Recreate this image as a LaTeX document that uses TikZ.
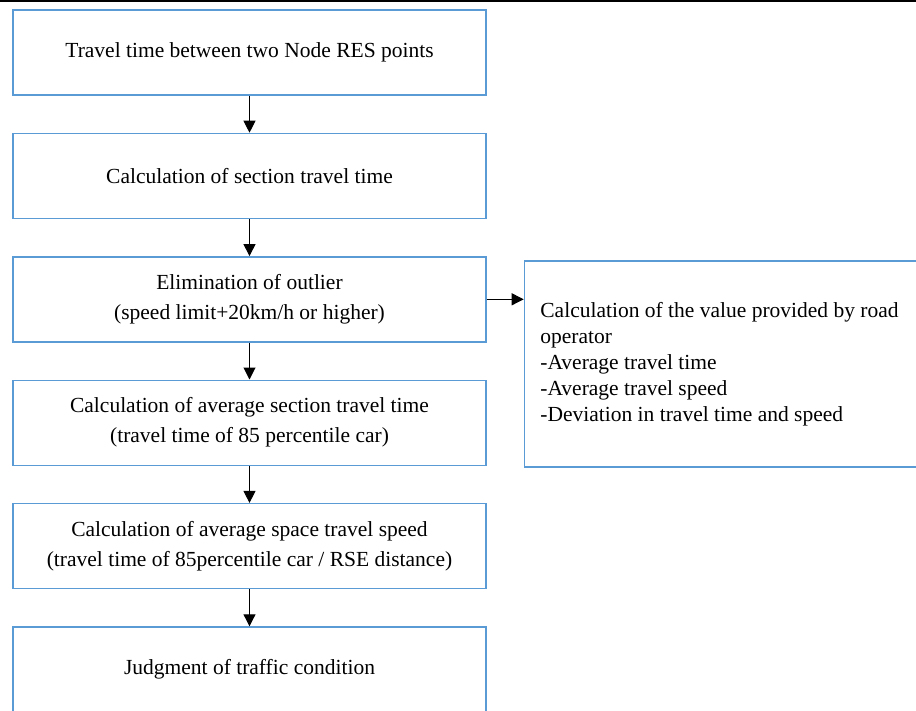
\documentclass[tikz,border=0pt]{standalone}
\usepackage{fontspec}
\setmainfont{Liberation Serif}
\usepackage{xcolor}
\usetikzlibrary{arrows.meta,positioning,calc}
\definecolor{boxblue}{HTML}{5B9BD5}

\begin{document}
\begin{tikzpicture}[
  stepbox/.style={draw=boxblue,line width=1.4pt,align=center,minimum width=473pt,
              minimum height=85pt,inner sep=0pt,font=\fontsize{21.5}{30}\selectfont},
  sidebox/.style={draw=boxblue,line width=1.4pt,align=flush left,minimum width=392pt,
               minimum height=206pt,text width=360pt,inner xsep=16pt,inner ysep=0pt,
               font=\fontsize{21.5}{26}\selectfont},
  arrow/.style={-{Triangle[length=12pt,width=12pt]},line width=1pt},
  node distance=37pt
]
\clip (0,0) rectangle (916pt,-710pt);
\fill[white] (0,0) rectangle (916pt,-710pt);
\draw[line width=2pt] (0,-1pt) -- (916pt,-1pt);

\node[stepbox] (t1) at (249.5pt,-52.5pt) {Travel time between two Node RES points};
\node[stepbox, below=of t1] (t2) {Calculation of section travel time};
\node[stepbox, below=of t2] (t3) {Elimination of outlier\\(speed limit+20km/h or higher)};
\node[stepbox, below=of t3] (t4) {Calculation of average section travel time\\(travel time of 85 percentile car)};
\node[stepbox, below=of t4] (t5) {Calculation of average space travel speed\\(travel time of 85percentile car / RSE distance)};
\node[stepbox, below=of t5] (t6) {Judgment of traffic condition};

\node[sidebox, below right=4pt and 37pt of t3.north east] (op)
  {Calculation of the value provided by road\\operator\\-Average travel time\\-Average travel speed\\-Deviation in travel time and speed};

\draw[arrow] (t1) -- (t2);
\draw[arrow] (t2) -- (t3);
\draw[arrow] (t3) -- (t4);
\draw[arrow] (t4) -- (t5);
\draw[arrow] (t5) -- (t6);
\draw[arrow] (t3.east) -- (t3.east -| op.west);
\end{tikzpicture}
\end{document}
